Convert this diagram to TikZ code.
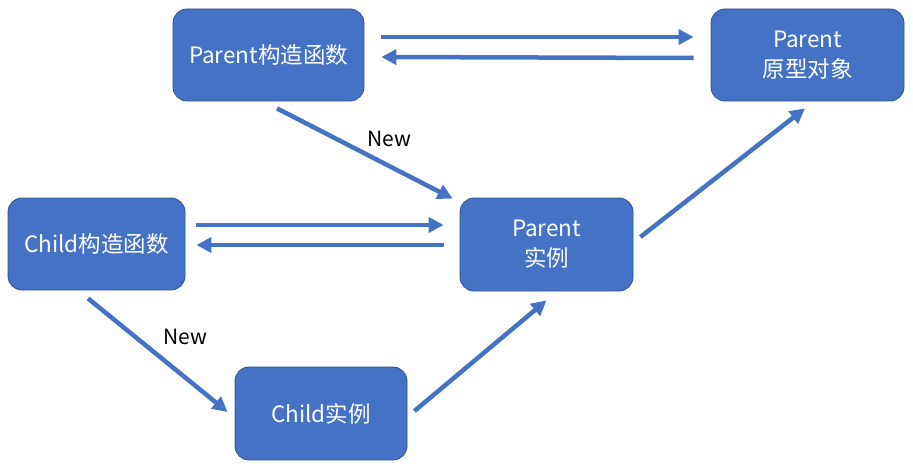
\documentclass[tikz,border=0pt]{standalone}
\usepackage{fontspec}
\setmainfont{Noto Sans CJK SC}
\usetikzlibrary{arrows.meta,calc}
\definecolor{boxfill}{HTML}{4472C4}
\definecolor{boxline}{HTML}{2F528F}
\tikzset{
  box/.style={draw=boxline,line width=0.8pt,fill=boxfill,rounded corners=14pt,text=white,align=center,font=\fontsize{22.5}{30}\selectfont,inner sep=0pt},
  arr/.style={draw=boxfill,line width=4.5pt,-{Triangle[length=15pt,width=15pt]}},
  lbl/.style={font=\fontsize{21}{24}\selectfont,text=black}
}
\begin{document}
\begin{tikzpicture}[x=1pt,y=-1pt]
\useasboundingbox (0,0) rectangle (913,468);
\node[box,minimum width=191pt,minimum height=92pt] (p) at (268.5,55) {Parent构造函数};
\node[box,minimum width=193pt,minimum height=92pt] (po) at (807.5,55) {Parent\\原型对象};
\node[box,minimum width=177pt,minimum height=92pt] (c) at (96.5,244) {Child构造函数};
\node[box,minimum width=173pt,minimum height=93pt] (pi) at (546.5,244.5) {Parent\\实例};
\node[box,minimum width=172pt,minimum height=93pt] (ci) at (321,413.5) {Child实例};
\draw[arr] ($(p.east)+(17,-18)$) -- ($(po.west)+(-17,-18)$);
\draw[arr] ($(po.west)+(-17,3)$) -- ($(p.east)+(17,2)$);
\draw[arr] ($(p.south)+(8.5,7)$) -- ($(pi.north west)+(-7,1)$);
\draw[arr] ($(c.east)+(11,-19)$) -- ($(pi.west)+(-16,-19.5)$);
\draw[arr] ($(pi.west)+(-16,0.5)$) -- ($(c.east)+(11,1)$);
\draw[arr] ($(c.south)+(-8.5,8)$) -- ($(ci.west)+(-7,-1.5)$);
\draw[arr] ($(ci.east)+(7,-2.5)$) -- ($(pi.south)+(0,9)$);
\draw[arr] ($(pi.east)+(7,-7.5)$) -- ($(po.south)+(-2.5,7)$);
\node[lbl] (n1) at (389,139) {New};
\node[lbl] (n2) at (185,337) {New};
\end{tikzpicture}
\end{document}
